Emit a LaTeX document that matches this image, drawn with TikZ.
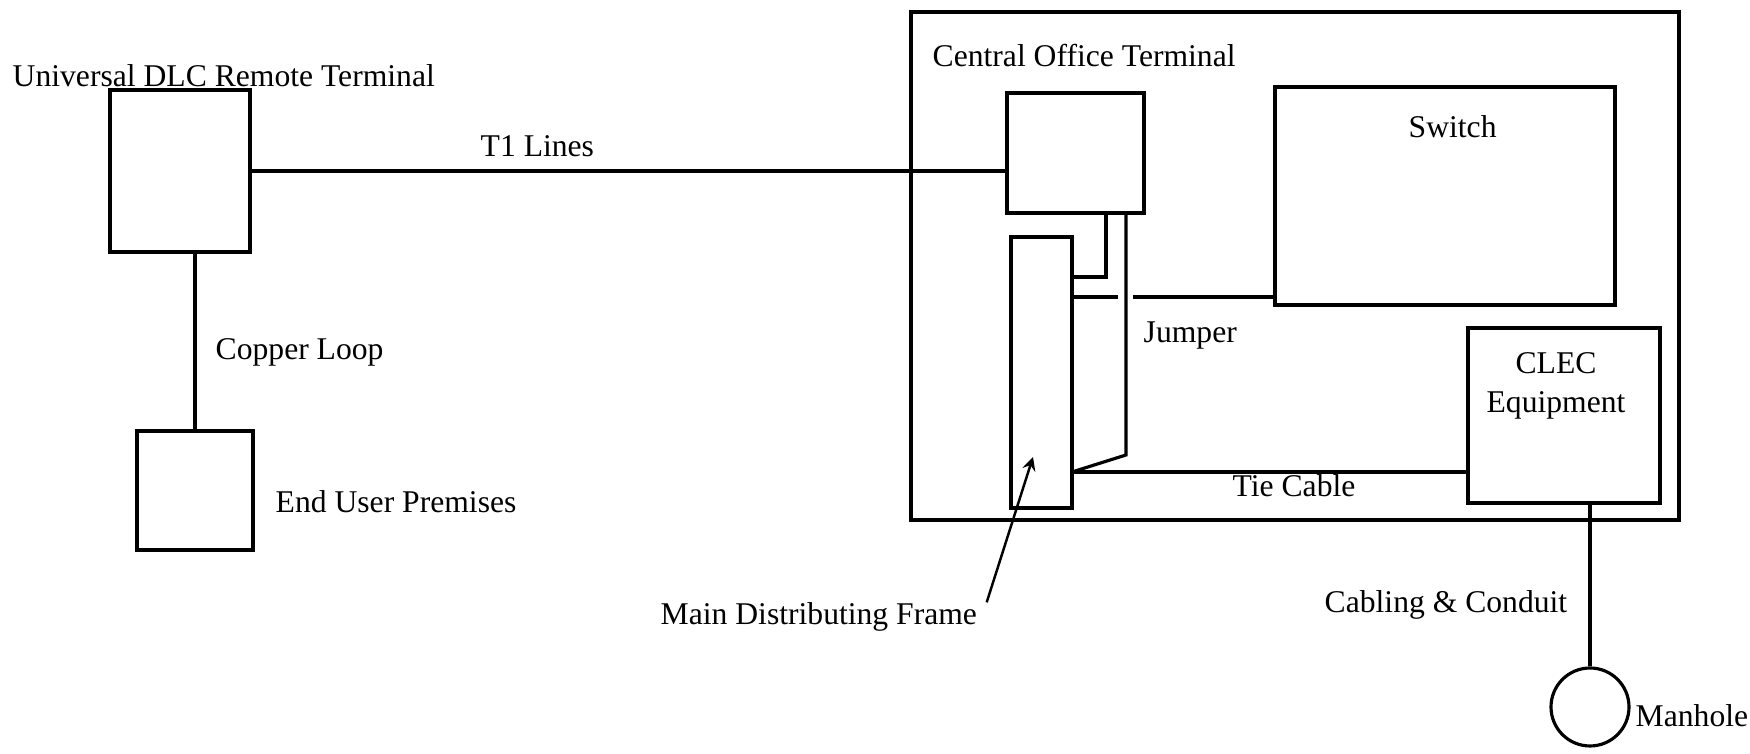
\documentclass[tikz,border=0pt]{standalone}
\usepackage{fontspec}
\setmainfont{Liberation Serif}
\usepackage{tikz}

\tikzset{BoxStyle/.style={draw, line width=0.9pt, inner sep=0pt},
  WireStyle/.style={line width=0.9pt},
  LabelStyle/.style={inner sep=0pt, anchor=base west, font=\fontsize{9}{11}\selectfont}}

\begin{document}
\begin{tikzpicture}[x=0.1mm, y=-0.1mm]
    \useasboundingbox (0,0) rectangle (1750,754);
        % left side: remote terminal and customer
        \node[BoxStyle, minimum width=14mm, minimum height=16.2mm] (RT) at (180,171) {};
        \node[LabelStyle] (RTlbl) at (12,87) {Universal DLC Remote Terminal};
        \node[BoxStyle, minimum width=11.6mm, minimum height=11.9mm] (EUP) at (195,490.5) {};
        \node[LabelStyle] (EUPlbl) at (275,513) {End User Premises};
        \node[LabelStyle] (CLlbl) at (215,360) {Copper Loop};
        \node[LabelStyle] (T1lbl) at (480,157) {T1 Lines};
        % central office
        \node[BoxStyle, minimum width=76.8mm, minimum height=50.8mm] (CO) at (1295,266) {};
        \node[LabelStyle] (COlbl) at (932,67) {Central Office Terminal};
        \node[BoxStyle, minimum width=13.7mm, minimum height=12mm] (COT) at (1075.5,153) {};
        \node[BoxStyle, minimum width=34mm, minimum height=21.8mm] (SW) at (1445,196) {};
        \node[LabelStyle] (SWlbl) at (1408,138) {Switch};
        \node[BoxStyle, minimum width=6.1mm, minimum height=27.1mm] (MDF) at (1041.5,372.5) {};
        \node[BoxStyle, minimum width=19.2mm, minimum height=17.5mm] (CLEC) at (1564,415.5) {};
        \node[inner sep=0pt, align=center, font=\fontsize{9}{11}\selectfont] (CLEClbl) at (1556,386) {CLEC\\Equipment};
        \node[LabelStyle] (JPlbl) at (1143,343) {Jumper};
        \node[LabelStyle] (TClbl) at (1232,497) {Tie Cable};
        \node[LabelStyle] (MDFlbl) at (660,625) {Main Distributing Frame};
        \node[LabelStyle] (CCLbl) at (1324,613) {Cabling \& Conduit};
        \node[BoxStyle, circle, minimum size=7.8mm] (MH) at (1590,707) {};
        \node[LabelStyle] (MHlbl) at (1635,727) {Manhole};
        % wiring
        \coordinate (JA) at (1106,277);
        \coordinate (JB) at (1126,455);
        \coordinate (TieEnd) at (1072,472);
        \coordinate (SL) at (1072,297);
        \coordinate (MDFin) at (1033,457);
        \draw[WireStyle] (RT.east) -- (RT.east -| COT.west);
        \draw[WireStyle] (EUP.north |- RT.south) -- (EUP.north);
        \draw[WireStyle] (JA |- COT.south) -- (JA) -- (JA -| MDF.east);
        \draw[WireStyle] (JB |- COT.south) -- (JB) -- (TieEnd);
        \draw[WireStyle] (TieEnd) -- (TieEnd -| CLEC.west);
        \draw[WireStyle] (SL) -- ([xshift=-0.8mm]SL -| JB) ([xshift=0.7mm]SL -| JB) -- (SL -| SW.west);
        \draw[WireStyle] (MH.north |- CLEC.south) -- (MH.north);
        \draw[line width=0.7pt, -stealth] ([xshift=0.9mm]MDFlbl.north east) -- (MDFin);
    \end{tikzpicture}
\end{document}
